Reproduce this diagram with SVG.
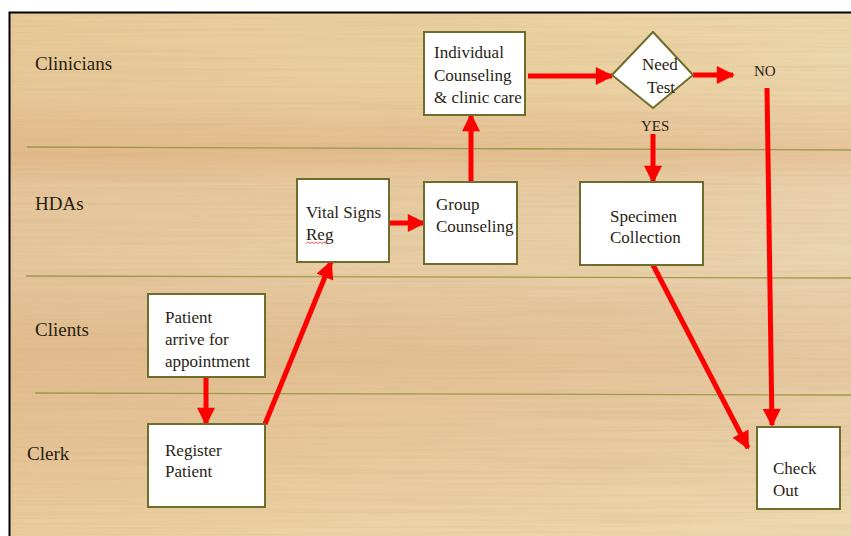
<svg xmlns="http://www.w3.org/2000/svg" width="851" height="536" viewBox="0 0 851 536" font-family="Liberation Serif, serif">
  <defs>
    <!-- warm wood backdrop: vertical banding -->
    <linearGradient id="woodV" x1="0" y1="0" x2="0" y2="1">
      <stop offset="0" stop-color="#ebd3a1"/>
      <stop offset="0.15" stop-color="#ead0a0"/>
      <stop offset="0.22" stop-color="#e7c596"/>
      <stop offset="0.27" stop-color="#e4be8f"/>
      <stop offset="0.33" stop-color="#e8cca2"/>
      <stop offset="0.48" stop-color="#e9d0a7"/>
      <stop offset="0.56" stop-color="#e5c79d"/>
      <stop offset="0.66" stop-color="#e3c194"/>
      <stop offset="0.75" stop-color="#e6c79a"/>
      <stop offset="0.85" stop-color="#e8cb9e"/>
      <stop offset="1" stop-color="#eed6a8"/>
    </linearGradient>
    <!-- left side is a little deeper in tone -->
    <linearGradient id="woodH" x1="0" y1="0" x2="1" y2="0">
      <stop offset="0" stop-color="#d9a070" stop-opacity="0.18"/>
      <stop offset="0.4" stop-color="#d9a070" stop-opacity="0.05"/>
      <stop offset="1" stop-color="#ffffff" stop-opacity="0.12"/>
    </linearGradient>
    <!-- fine horizontal grain -->
    <filter id="grain" x="0" y="0" width="100%" height="100%">
      <feTurbulence type="fractalNoise" baseFrequency="0.004 0.35" numOctaves="2" seed="7" result="n"/>
      <feColorMatrix in="n" type="matrix" values="0 0 0 0 0.55  0 0 0 0 0.38  0 0 0 0 0.2  0 0 0 1.2 -0.45"/>
    </filter>
    <marker id="head" viewBox="0 0 10 10" refX="9" refY="5" markerWidth="3.8" markerHeight="3.6" orient="auto" markerUnits="strokeWidth">
      <path d="M0,0 L10,5 L0,10 Z" fill="#ff0000"/>
    </marker>
    <style>
      text { fill: #2a1e14; }
      .lane { font-size: 19px; }
      .txt { font-size: 17px; }
      .small { font-size: 15px; }
      .box { fill: #ffffff; stroke: #6e6e2c; stroke-width: 2; }
      .sep { stroke: #9c9a4c; stroke-width: 1.3; }
      .flow { stroke: #ff0000; stroke-width: 5; fill: none; marker-end: url(#head); }
    </style>
  </defs>

  <!-- page and frame -->
  <rect x="0" y="0" width="851" height="536" fill="#ffffff"/>
  <rect x="10" y="13" width="841" height="523" fill="url(#woodV)"/>
  <rect x="10" y="13" width="841" height="523" fill="url(#woodH)"/>
  <rect x="10" y="13" width="841" height="523" filter="url(#grain)" opacity="0.35"/>
  <path d="M9.5,536 L9.5,12.5 L851,12.5" fill="none" stroke="#000000" stroke-width="2"/>

  <!-- swimlane separators and lane names -->
  <g id="lanes">
    <line class="sep" x1="27" y1="147" x2="851" y2="150"/>
    <line class="sep" x1="26" y1="276" x2="851" y2="278"/>
    <line class="sep" x1="35" y1="393" x2="851" y2="395"/>
    <text class="lane" x="35" y="70">Clinicians</text>
    <text class="lane" x="35" y="210">HDAs</text>
    <text class="lane" x="35" y="336">Clients</text>
    <text class="lane" x="27" y="460">Clerk</text>
  </g>

  <!-- connectors -->
  <g id="connectors">
    <line class="flow" x1="206" y1="377" x2="206" y2="424"/>
    <line class="flow" x1="265" y1="424" x2="331" y2="262"/>
    <line class="flow" x1="389" y1="223" x2="424" y2="223"/>
    <line class="flow" x1="471" y1="182" x2="471" y2="115"/>
    <line class="flow" x1="528" y1="76" x2="612" y2="76"/>
    <line class="flow" x1="693" y1="75" x2="733" y2="75"/>
    <line class="flow" x1="653" y1="134" x2="653" y2="182"/>
    <line class="flow" x1="767" y1="88" x2="772" y2="425"/>
    <line class="flow" x1="653" y1="265" x2="748" y2="448"/>
  </g>

  <g id="patient-arrive">
    <rect class="box" x="148" y="294" width="117" height="83"/>
    <text class="txt" x="165" y="323">Patient</text>
    <text class="txt" x="165" y="345">arrive for</text>
    <text class="txt" x="165" y="367">appointment</text>
  </g>

  <g id="register-patient">
    <rect class="box" x="148" y="424" width="117" height="83"/>
    <text class="txt" x="165" y="456">Register</text>
    <text class="txt" x="165" y="477">Patient</text>
  </g>

  <g id="vital-signs">
    <rect class="box" x="297" y="179" width="92" height="83"/>
    <text class="txt" x="306" y="218">Vital Signs</text>
    <text class="txt" x="306" y="240">Reg</text>
    <path d="M306,243.5 l2,-1.5 l2,1.5 l2,-1.5 l2,1.5 l2,-1.5 l2,1.5 l2,-1.5 l2,1.5 l2,-1.5 l2,1.5" fill="none" stroke="#e03030" stroke-width="0.8"/>
  </g>

  <g id="group-counseling">
    <rect class="box" x="424" y="182" width="93" height="82"/>
    <text class="txt" x="436" y="210">Group</text>
    <text class="txt" x="436" y="232">Counseling</text>
  </g>

  <g id="individual-counseling">
    <rect class="box" x="424" y="32" width="101" height="83"/>
    <text class="txt" x="434" y="58">Individual</text>
    <text class="txt" x="434" y="81">Counseling</text>
    <text class="txt" x="434" y="103">&amp; clinic care</text>
  </g>

  <g id="need-test">
    <polygon class="box" points="653,32 693,75 653,108 612,75"/>
    <text class="txt" x="642" y="70">Need</text>
    <text class="txt" x="647" y="93">Test</text>
    <text class="small" x="641" y="131">YES</text>
    <text class="small" x="754" y="76">NO</text>
  </g>

  <g id="specimen-collection">
    <rect class="box" x="580" y="182" width="123" height="83"/>
    <text class="txt" x="610" y="222">Specimen</text>
    <text class="txt" x="610" y="243">Collection</text>
  </g>

  <g id="check-out">
    <rect class="box" x="757" y="427" width="83" height="82"/>
    <text class="txt" x="773" y="474">Check</text>
    <text class="txt" x="773" y="496">Out</text>
  </g>
</svg>
